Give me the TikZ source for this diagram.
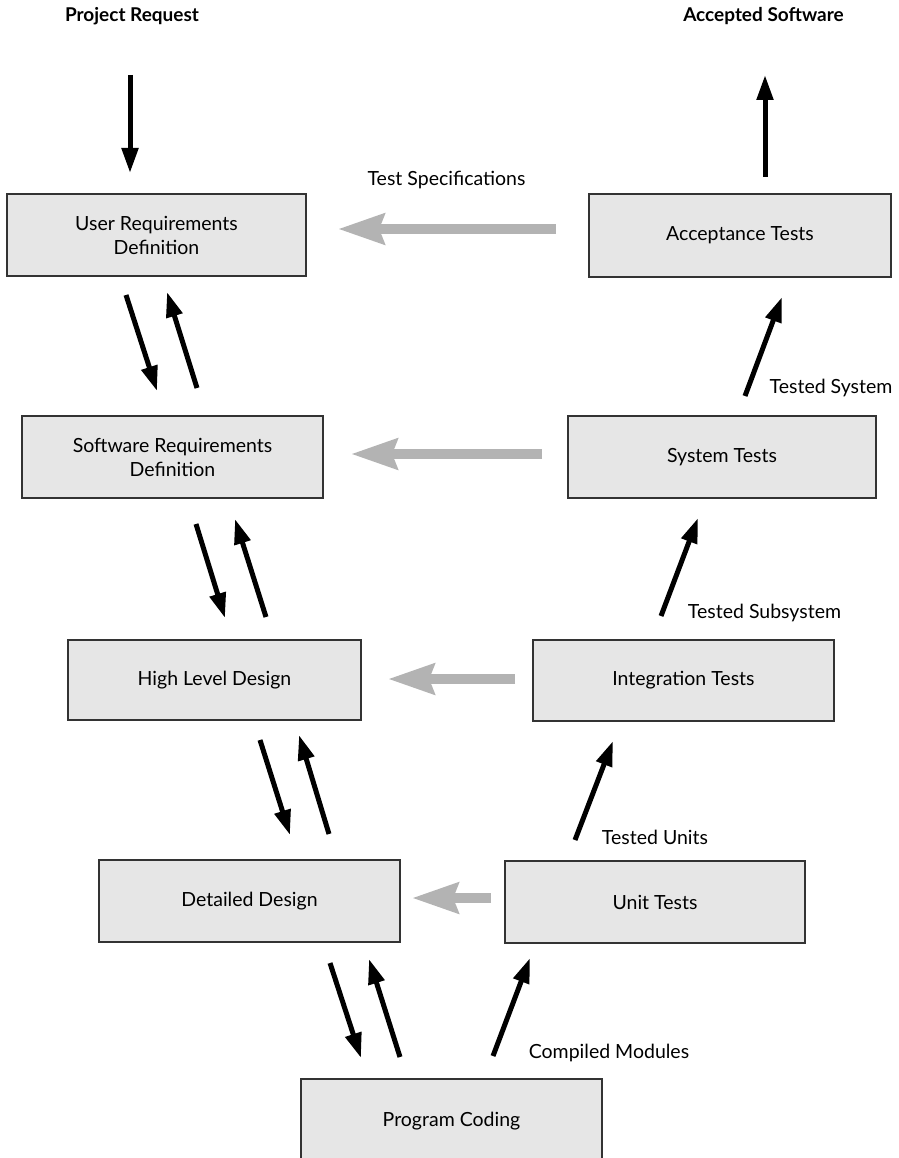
\documentclass[tikz,border=0pt]{standalone}
\usepackage{fontspec}
\setmainfont{Lato}
\usetikzlibrary{arrows.meta}
\definecolor{boxfill}{HTML}{E6E6E6}
\definecolor{boxline}{HTML}{333333}
\definecolor{feedback}{HTML}{B3B3B3}
\begin{document}
\begin{tikzpicture}[x=1pt,y=-1pt,
  phase/.style={draw=boxline, line width=1.4pt, fill=boxfill, inner sep=0pt,
    minimum height=82pt, align=center, font=\fontsize{19.5}{24}\selectfont},
  flow/.style={line width=5pt, -{Triangle[length=25pt,width=16pt]}},
  backflow/.style={feedback, line width=10pt, -{Stealth[length=46pt,width=30pt,inset=5pt]}},
  note/.style={anchor=base, inner sep=0pt, font=\fontsize{19.5}{24}\selectfont},
  title/.style={anchor=base, inner sep=0pt, font=\fontsize{19}{24}\selectfont\bfseries}]
\useasboundingbox (0,0) rectangle (898,1158);

% left leg: specification and design phases
\node[phase, minimum width=299pt] (urd) at (156.5,235) {User Requirements\\Definition};
\node[phase, minimum width=301pt] (srd) at (172.5,457) {Software Requirements\\Definition};
\node[phase, minimum width=293pt, minimum height=80pt] (hld) at (214.5,680) {High Level Design};
\node[phase, minimum width=301pt] (dd)  at (249.5,901) {Detailed Design};
% bottom
\node[phase, minimum width=301pt, minimum height=84pt] (pc) at (451.5,1121) {Program Coding};
% right leg: test phases
\node[phase, minimum width=300pt] (ut) at (655,902) {Unit Tests};
\node[phase, minimum width=301pt, minimum height=81pt] (it) at (683.5,680.5) {Integration Tests};
\node[phase, minimum width=308pt] (st) at (722,457) {System Tests};
\node[phase, minimum width=302pt, minimum height=83pt] (at) at (740,235.5) {Acceptance Tests};

% titles and labels
\node[title] (req) at (132,22) {Project Request};
\node[title] (acc) at (763.5,22) {Accepted Software};
\node[note] (spec) at (446.5,186) {Test Specifications};
\node[note] (tsys) at (831,393) {Tested System};
\node[note] (tsub) at (764.5,618) {Tested Subsystem};
\node[note] (tuni) at (655,844) {Tested Units};
\node[note] (tmod) at (609,1058) {Compiled Modules};

% arrow end points
\coordinate (in0) at (130,75);    \coordinate (in1) at (130,173);
\coordinate (out0) at (765,177);  \coordinate (out1) at (765,75);
\coordinate (d1a) at (126,295);   \coordinate (d1b) at (157,391);
\coordinate (u1a) at (197,388);   \coordinate (u1b) at (167,292);
\coordinate (d2a) at (196,524);   \coordinate (d2b) at (225,618);
\coordinate (u2a) at (266,617);   \coordinate (u2b) at (235,519);
\coordinate (d3a) at (260,740);   \coordinate (d3b) at (290,835);
\coordinate (u3a) at (329,834);   \coordinate (u3b) at (299,735);
\coordinate (d4a) at (330,963);   \coordinate (d4b) at (361,1058);
\coordinate (u4a) at (400,1057);  \coordinate (u4b) at (369,959);
\coordinate (r1a) at (493,1056);  \coordinate (r1b) at (530,958);
\coordinate (r2a) at (575,840);   \coordinate (r2b) at (613,741);
\coordinate (r3a) at (661,616);   \coordinate (r3b) at (698,518);
\coordinate (r4a) at (745,396);   \coordinate (r4b) at (782,297);
\coordinate (g1a) at (556,229);   \coordinate (g1b) at (338,229);
\coordinate (g2a) at (542,454);   \coordinate (g2b) at (351,454);
\coordinate (g3a) at (515,679);   \coordinate (g3b) at (388,679);
\coordinate (g4a) at (491,898);   \coordinate (g4b) at (412,898);

% black flow arrows
\draw[flow] (in0) -- (in1);
\draw[flow] (out0) -- (out1);
\draw[flow] (d1a) -- (d1b);  \draw[flow] (u1a) -- (u1b);
\draw[flow] (d2a) -- (d2b);  \draw[flow] (u2a) -- (u2b);
\draw[flow] (d3a) -- (d3b);  \draw[flow] (u3a) -- (u3b);
\draw[flow] (d4a) -- (d4b);  \draw[flow] (u4a) -- (u4b);
\draw[flow] (r1a) -- (r1b);
\draw[flow] (r2a) -- (r2b);
\draw[flow] (r3a) -- (r3b);
\draw[flow] (r4a) -- (r4b);

% grey test-specification arrows
\draw[backflow] (g1a) -- (g1b);
\draw[backflow] (g2a) -- (g2b);
\draw[backflow] (g3a) -- (g3b);
\draw[backflow] (g4a) -- (g4b);
\end{tikzpicture}
\end{document}
